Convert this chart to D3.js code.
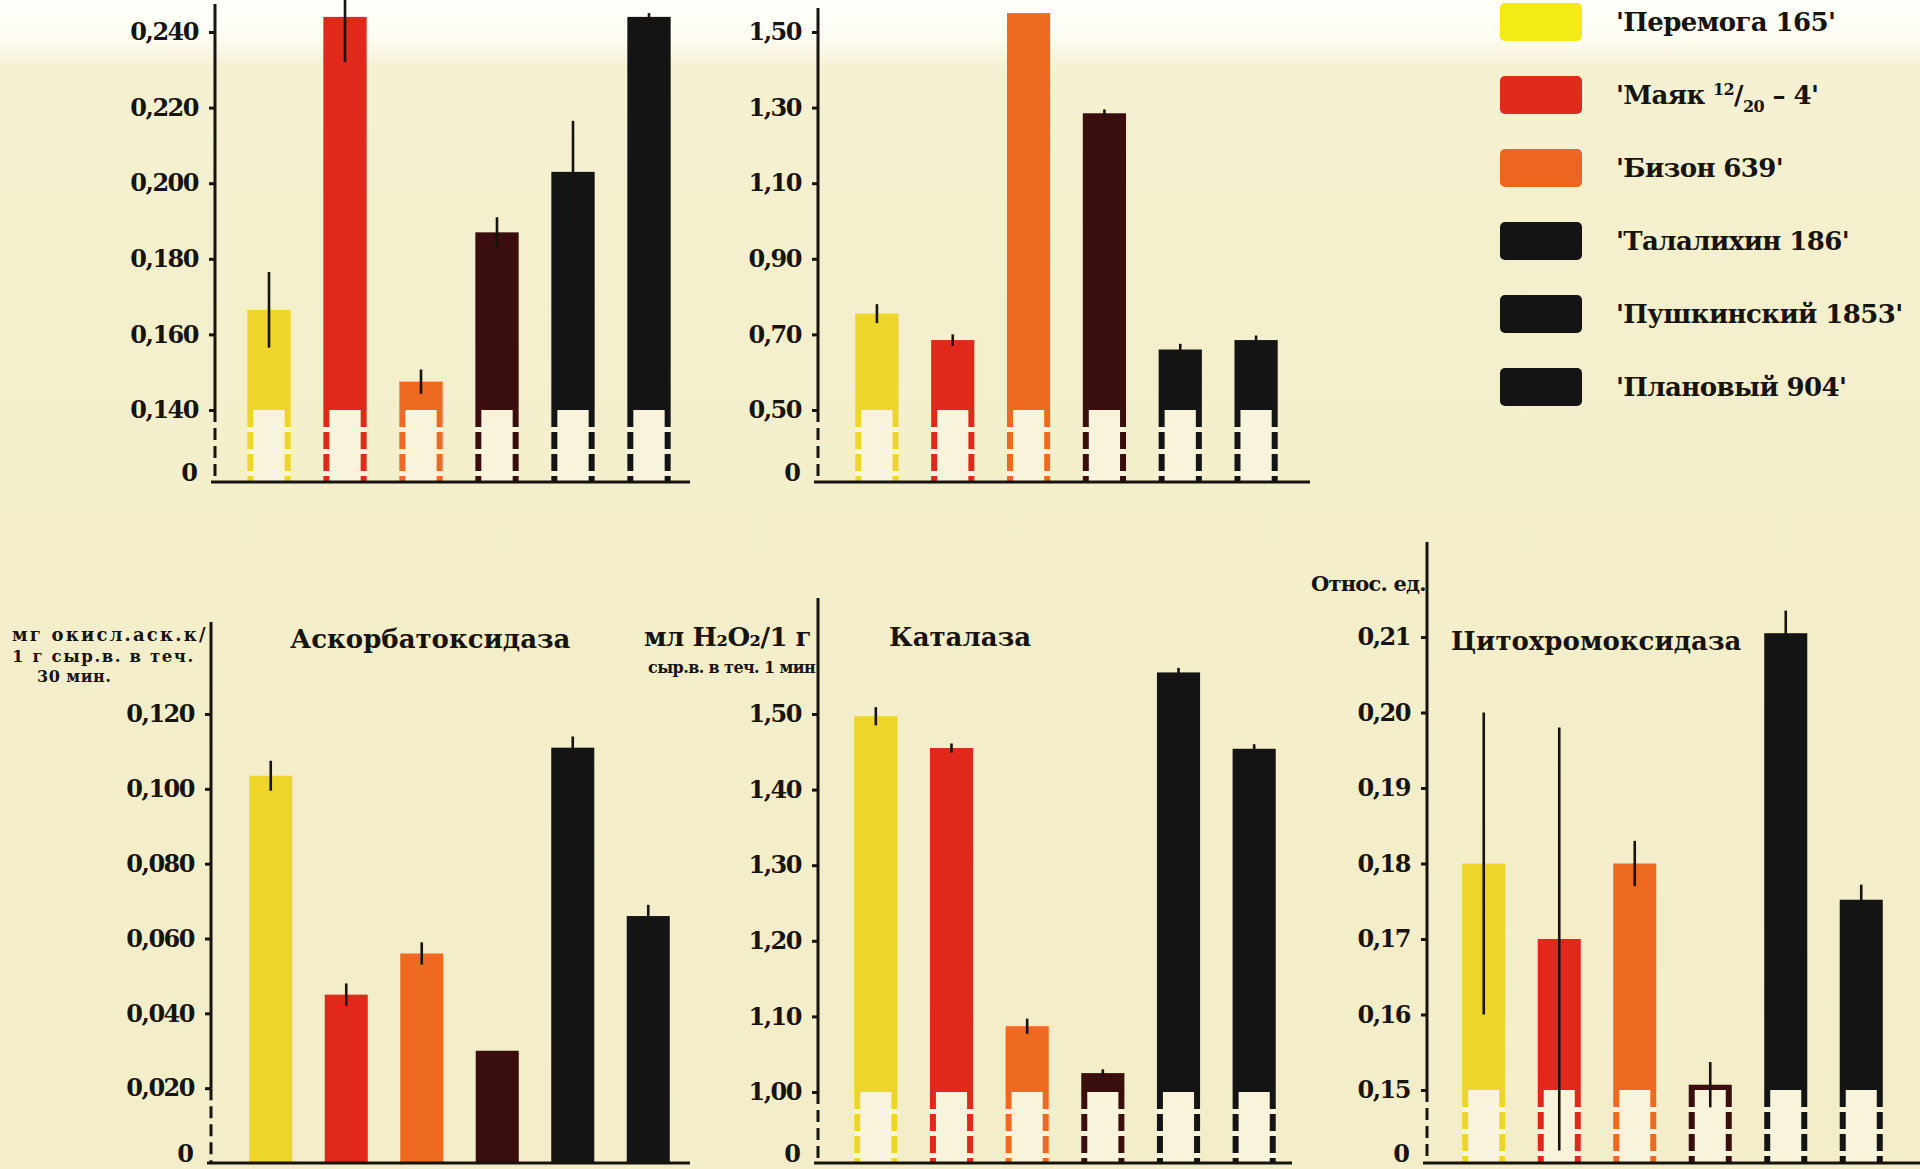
<!DOCTYPE html>
<html>
<head>
<meta charset="utf-8">
<script src="https://cdn.jsdelivr.net/npm/d3@7"></script>
<style>
  html, body { margin: 0; padding: 0; background: #f4efcc; }
  svg { display: block; }
  text { font-family: "DejaVu Serif", serif; font-weight: bold; fill: #17130f; }
</style>
</head>
<body>
<svg id="chart" width="1920" height="1169"></svg>
<script>
// Wheat varieties, in the order the bars are drawn in every panel
const varieties = ["Перемога 165", "Маяк 12/20 – 4", "Бизон 639", "Талалихин 186", "Пушкинский 1853", "Плановый 904"];
const barColors = ["#eed52a", "#e0291b", "#ee6a20", "#3b0e0e", "#141414", "#141414"];
const legendColors = ["#f3ea16", "#e02a1c", "#ec6620", "#141414", "#141414", "#141414"];

// Upper left panel
const upperLeftTicks = [0.14, 0.16, 0.18, 0.20, 0.22, 0.24];
const upperLeftValues = [0.1665, 0.244, 0.1475, 0.187, 0.203, 0.244];
const upperLeftErrors = [0.010, 0.012, 0.0032, 0.004, 0.0135, 0.001];

// Upper middle panel
const upperMidTicks = [0.50, 0.70, 0.90, 1.10, 1.30, 1.50];
const upperMidValues = [0.755, 0.685, 1.55, 1.285, 0.66, 0.685];
const upperMidErrors = [0.025, 0.015, 0, 0.01, 0.015, 0.012];

// Аскорбатоксидаза
const ascorbateTicks = [0.020, 0.040, 0.060, 0.080, 0.100, 0.120];
const ascorbateValues = [0.1035, 0.045, 0.056, 0.030, 0.111, 0.066];
const ascorbateErrors = [0.004, 0.003, 0.003, 0, 0.003, 0.003];

// Каталаза
const catalaseTicks = [1.00, 1.10, 1.20, 1.30, 1.40, 1.50];
const catalaseValues = [1.497, 1.455, 1.087, 1.025, 1.555, 1.454];
const catalaseErrors = [0.012, 0.006, 0.01, 0.005, 0.006, 0.006];

// Цитохромоксидаза
const cytochromeTicks = [0.15, 0.16, 0.17, 0.18, 0.19, 0.20, 0.21];
const cytochromeValues = [0.180, 0.170, 0.180, 0.1507, 0.2105, 0.1752];
const cytochromeErrors = [0.020, 0.028, 0.003, 0.003, 0.003, 0.002];

const titles = ["Аскорбатоксидаза", "Каталаза", "Цитохромоксидаза"];
const ascorbateUnit = ["мг окисл.аск.к/", "1 г сыр.в. в теч.", "30 мин."];
const catalaseUnit = ["мл H₂O₂/1 г", "сыр.в. в теч. 1 мин"];
const cytochromeUnit = ["Относ. ед."];

const panels = [
  { values: upperLeftValues, errors: upperLeftErrors, ticks: upperLeftTicks, decimals: 3, broken: true,
    axisX: 215, xRange: [231, 687], yLow: 410, yHigh: 32, yBase: 482, axisTop: 4, baseEnd: 690 },
  { values: upperMidValues, errors: upperMidErrors, ticks: upperMidTicks, decimals: 2, broken: true,
    axisX: 818, xRange: [839, 1294], yLow: 410, yHigh: 32, yBase: 482, axisTop: 8, baseEnd: 1310 },
  { values: ascorbateValues, errors: ascorbateErrors, ticks: ascorbateTicks, decimals: 3, broken: false,
    axisX: 211, xRange: [233, 686], yLow: 1163, yHigh: 714, yBase: 1163, axisTop: 622, baseEnd: 690 },
  { values: catalaseValues, errors: catalaseErrors, ticks: catalaseTicks, decimals: 2, broken: true,
    axisX: 818, xRange: [838, 1292], yLow: 1092, yHigh: 714, yBase: 1163, axisTop: 598, baseEnd: 1292 },
  { values: cytochromeValues, errors: cytochromeErrors, ticks: cytochromeTicks, decimals: 2, broken: true,
    axisX: 1427, xRange: [1446, 1899], yLow: 1090, yHigh: 637, yBase: 1163, axisTop: 542, baseEnd: 1920 }
];

const ink = "#17130f";
const svg = d3.select("#chart");
const defs = svg.append("defs");

// paper: bleached strip along the top edge, cream below
const paper = defs.append("linearGradient").attr("id", "paper")
  .attr("x1", 0).attr("y1", 0).attr("x2", 0).attr("y2", 1);
[[0, "#fffffb"], [0.03, "#fefdf4"], [0.058, "#f6f1d3"], [0.2, "#f4efcc"], [1, "#f3edc9"]]
  .forEach(([o, c]) => paper.append("stop").attr("offset", o).attr("stop-color", c));
svg.append("rect").attr("width", 1920).attr("height", 1169).attr("fill", "url(#paper)");

const commaFormat = (d, n) => d3.format(`.${n}f`)(d).replace(".", ",");

function drawPanel(p) {
  const g = svg.append("g");
  const lo = p.broken ? p.ticks[0] : 0;
  const y = d3.scaleLinear().domain([lo, p.ticks[p.ticks.length - 1]]).range([p.yLow, p.yHigh]);
  const x = d3.scaleBand().domain(varieties).range(p.xRange).paddingInner(0.43).paddingOuter(0.215);
  const bw = x.bandwidth();
  const yFloor = y(lo);
  const rows = varieties.map((name, i) => ({ name, value: p.values[i], err: p.errors[i], color: barColors[i] }));

  // hollow dashed legs under the axis break
  if (p.broken) {
    const legs = g.append("g").selectAll("g").data(rows).join("g");
    legs.append("rect")
      .attr("x", d => x(d.name)).attr("width", bw)
      .attr("y", yFloor).attr("height", p.yBase - yFloor)
      .attr("fill", "#f8f4dc");
    [0, 1].forEach(side => {
      legs.append("line")
        .attr("x1", d => x(d.name) + (side ? bw - 3 : 3))
        .attr("x2", d => x(d.name) + (side ? bw - 3 : 3))
        .attr("y1", yFloor).attr("y2", p.yBase)
        .attr("stroke", d => d.color).attr("stroke-width", 6)
        .attr("stroke-dasharray", "17 5");
    });
  }

  // bars
  g.append("g").selectAll("rect").data(rows).join("rect")
    .attr("x", d => x(d.name)).attr("width", bw)
    .attr("y", d => y(d.value))
    .attr("height", d => Math.max(0, yFloor - y(d.value)))
    .attr("fill", d => d.color);

  // error whiskers
  g.append("g").selectAll("line").data(rows.filter(d => d.err > 0)).join("line")
    .attr("x1", d => x(d.name) + bw / 2).attr("x2", d => x(d.name) + bw / 2)
    .attr("y1", d => y(d.value + d.err)).attr("y2", d => y(d.value - d.err))
    .attr("stroke", ink).attr("stroke-width", 2.6);

  // axis: ticks and labels
  const axis = d3.axisLeft(y).tickValues(p.ticks).tickSize(6).tickPadding(11)
    .tickFormat(d => commaFormat(d, p.decimals));
  const ag = g.append("g").attr("transform", `translate(${p.axisX},0)`).call(axis);
  ag.select(".domain").remove();
  ag.selectAll(".tick line").attr("stroke", ink).attr("stroke-width", 3);
  ag.selectAll(".tick text")
    .attr("font-family", "DejaVu Serif, serif").attr("font-weight", "bold")
    .attr("font-size", 24).attr("letter-spacing", -1.5).attr("fill", ink);

  // zero label sitting just above the baseline
  ag.append("text").attr("x", -17).attr("y", p.yBase - 9).attr("dy", "0.32em")
    .attr("text-anchor", "end").attr("font-size", 24).attr("fill", ink).text("0");

  // axis line: solid above the lowest tick, dashed below it
  const yDash = y(p.ticks[0]);
  g.append("line").attr("x1", p.axisX).attr("x2", p.axisX).attr("y1", p.axisTop).attr("y2", yDash)
    .attr("stroke", ink).attr("stroke-width", 3);
  g.append("line").attr("x1", p.axisX).attr("x2", p.axisX).attr("y1", yDash).attr("y2", p.yBase)
    .attr("stroke", ink).attr("stroke-width", 3).attr("stroke-dasharray", "12 6");

  // baseline
  g.append("line").attr("x1", p.axisX - 4).attr("x2", p.baseEnd).attr("y1", p.yBase).attr("y2", p.yBase)
    .attr("stroke", ink).attr("stroke-width", 3);
}

panels.forEach(drawPanel);

// panel titles
const titleG = svg.append("g").attr("font-size", 26);
titleG.append("text").attr("x", 290).attr("y", 648).text(titles[0]);
titleG.append("text").attr("x", 889).attr("y", 646).text(titles[1]);
titleG.append("text").attr("x", 1451).attr("y", 650).text(titles[2]);

// unit captions
const unitG = svg.append("g");
unitG.append("text").attr("x", 12).attr("y", 641).attr("font-size", 18).attr("letter-spacing", 2.2).text(ascorbateUnit[0]);
unitG.append("text").attr("x", 12).attr("y", 662).attr("font-size", 16.5).attr("letter-spacing", 1.6).text(ascorbateUnit[1]);
unitG.append("text").attr("x", 37).attr("y", 682).attr("font-size", 16).attr("letter-spacing", 0.5).text(ascorbateUnit[2]);
unitG.append("text").attr("x", 644).attr("y", 646).attr("font-size", 26).attr("letter-spacing", -0.5).text(catalaseUnit[0]);
unitG.append("text").attr("x", 648).attr("y", 673).attr("font-size", 16).attr("letter-spacing", -0.6).text(catalaseUnit[1]);
unitG.append("text").attr("x", 1311).attr("y", 591).attr("font-size", 21).attr("letter-spacing", -0.8).text(cytochromeUnit[0]);

// legend
const legendY = d3.scalePoint().domain(varieties).range([22, 387]);
const leg = svg.append("g").selectAll("g").data(varieties).join("g")
  .attr("transform", d => `translate(1500,${legendY(d)})`);
leg.append("rect").attr("x", 0).attr("y", -19).attr("width", 82).attr("height", 38).attr("rx", 5)
  .attr("fill", (d, i) => legendColors[i]);
const legText = leg.append("text").attr("x", 116).attr("dy", "0.35em").attr("font-size", 26).attr("letter-spacing", -0.6);
legText.each(function (d) {
  const t = d3.select(this);
  const m = d.match(/^(.*?)(\d+)\/(\d+)(.*)$/);
  if (m) {
    t.append("tspan").text("'" + m[1]);
    t.append("tspan").attr("font-size", 16).attr("dy", -9).text(m[2]);
    t.append("tspan").attr("dy", 9).text("/");
    t.append("tspan").attr("font-size", 16).attr("dy", 8).text(m[3]);
    t.append("tspan").attr("dy", -8).text(m[4] + "'");
  } else {
    t.text("'" + d + "'");
  }
});
</script>
</body>
</html>
